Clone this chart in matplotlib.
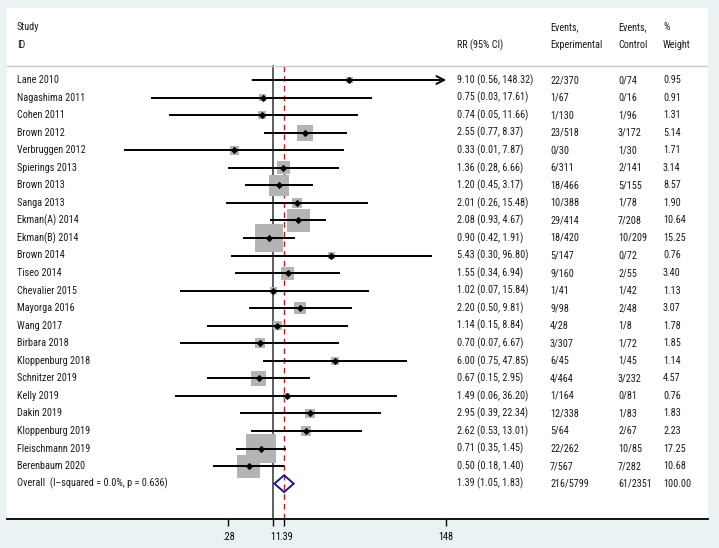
import matplotlib
matplotlib.use("Agg")
import matplotlib.pyplot as plt
import numpy as np

plt.rcParams['font.family'] = ['Roboto Condensed', 'Lato', 'DejaVu Sans']

studies = ["Lane 2010", "Nagashima 2011", "Cohen 2011", "Brown 2012", "Verbruggen 2012",
           "Spierings 2013", "Brown 2013", "Sanga 2013", "Ekman(A) 2014", "Ekman(B) 2014",
           "Brown 2014", "Tiseo 2014", "Chevalier 2015", "Mayorga 2016", "Wang 2017",
           "Birbara 2018", "Kloppenburg 2018", "Schnitzer 2019", "Kelly 2019", "Dakin 2019",
           "Kloppenburg 2019", "Fleischmann 2019", "Berenbaum 2020"]
rr = [9.10, 0.75, 0.74, 2.55, 0.33, 1.36, 1.20, 2.01, 2.08, 0.90, 5.43, 1.55, 1.02,
      2.20, 1.14, 0.70, 6.00, 0.67, 1.49, 2.95, 2.62, 0.71, 0.50]
lo = [0.56, 0.03, 0.05, 0.77, 0.014, 0.28, 0.45, 0.26, 0.93, 0.42, 0.30, 0.34, 0.07,
      0.50, 0.15, 0.07, 0.75, 0.15, 0.06, 0.39, 0.53, 0.35, 0.18]
hi = [148.32, 17.61, 11.66, 8.37, 7.87, 6.66, 3.17, 15.48, 4.67, 1.91, 96.80, 6.94, 15.84,
      9.81, 8.84, 6.67, 47.85, 2.95, 36.20, 22.34, 13.01, 1.45, 1.40]
ev_exp = ["22/370", "1/67", "1/130", "23/518", "0/30", "6/311", "18/466", "10/388", "29/414",
          "18/420", "5/147", "9/160", "1/41", "9/98", "4/28", "3/307", "6/45", "4/464", "1/164",
          "12/338", "5/64", "22/262", "7/567"]
ev_ctl = ["0/74", "0/16", "1/96", "3/172", "1/30", "2/141", "5/155", "1/78", "7/208", "10/209",
          "0/72", "2/55", "1/42", "2/48", "1/8", "1/72", "1/45", "3/232", "0/81", "1/83",
          "2/67", "10/85", "7/282"]
weights = [0.95, 0.91, 1.31, 5.14, 1.71, 3.14, 8.57, 1.90, 10.64, 15.25, 0.76, 3.40, 1.13,
           3.07, 1.78, 1.85, 1.14, 4.57, 0.76, 1.83, 2.23, 17.25, 10.68]
overall_label = "Overall  (I\u2013squared = 0.0%, p = 0.636)"
overall_rr, overall_lo, overall_hi = 1.39, 1.05, 1.83
overall_exp, overall_ctl, overall_w = "216/5799", "61/2351", "100.00"
xticks = [0.28, 1, 1.39, 148]
xticklabels = [".28", "1", "1.39", "148"]
axis_max = 148

W, H = 719, 548
fig = plt.figure(figsize=(W / 100, H / 100), dpi=100)
fig.patch.set_facecolor('#EAF2F3')

left_px, right_px, top_px, bot_px = 7, 708, 8, 519
ax = fig.add_axes([left_px / W, 1 - bot_px / H, (right_px - left_px) / W, (bot_px - top_px) / H])
ax.set_facecolor('white')

# x mapping: 80 px per decade, 1 at px 272.7
ppd, x1 = 80.0, 272.7
ax.set_xscale('log')
ax.set_xlim(10 ** ((left_px - x1) / ppd), 10 ** ((right_px - x1) / ppd))

row0, pitch = 80.0, 17.55
def yrow(py):
    return (py - row0) / pitch
ax.set_ylim(yrow(bot_px), yrow(top_px))

n = len(studies)
ys = np.arange(n)
y_over = n

# vertical lines
ysep = yrow(66)
ax.plot([1, 1], [ysep, yrow(bot_px)], color='#505050', lw=1.3, zorder=1)
ax.plot([overall_rr, overall_rr], [ysep, yrow(bot_px)], color='#B22222', lw=1.0,
        ls=(0, (4, 3)), zorder=1)

# header separator
ax.axhline(ysep, color='#C8C8C8', lw=1.0, zorder=1)

# boxes
ax.scatter(rr, ys, s=[26.06 * w for w in weights], marker='s', color='#B4B4B4',
           linewidths=0, zorder=2)
# CIs
for i in range(n):
    if hi[i] > axis_max:
        ax.annotate('', xy=(axis_max, ys[i]), xytext=(lo[i], ys[i]),
                    arrowprops=dict(arrowstyle='->', lw=1.4, color='black',
                                    mutation_scale=14, shrinkA=0, shrinkB=0), zorder=3)
    else:
        ax.plot([lo[i], hi[i]], [ys[i], ys[i]], color='black', lw=1.4, zorder=3,
                solid_capstyle='butt')
ax.scatter(rr, ys, s=14, marker='D', color='black', zorder=4, linewidths=0)

# overall diamond
dh = 0.48
ax.fill([overall_lo, overall_rr, overall_hi, overall_rr, overall_lo],
        [y_over, y_over - dh, y_over, y_over + dh, y_over],
        facecolor='none', edgecolor='#1A1A8A', lw=1.4, zorder=4)

# text columns
tr = ax.get_yaxis_transform()
def xf(px):
    return (px - left_px) / (right_px - left_px)
fs = 7.3
tc = '#1A1A1A'
col_id, col_rr, col_exp, col_ctl, col_w = xf(17), xf(457), xf(550), xf(618), xf(663)
h1, h2 = yrow(27), yrow(45)
for x, t1, t2 in [(col_id, "Study", "ID"), (col_rr, "", "RR (95% CI)"),
                  (col_exp, "Events,", "Experimental"), (col_ctl, "Events,", "Control"),
                  (col_w, "%", "Weight")]:
    if t1:
        ax.text(x, h1, t1, transform=tr, fontsize=fs, color=tc, va='center', ha='left')
    ax.text(x, h2, t2, transform=tr, fontsize=fs, color=tc, va='center', ha='left')

for i in range(n):
    ax.text(col_id, ys[i], studies[i], transform=tr, fontsize=fs, color=tc, va='center')
    ax.text(col_rr, ys[i], f"{rr[i]:.2f} ({lo[i]:.2f}, {hi[i]:.2f})", transform=tr,
            fontsize=fs, color=tc, va='center')
    ax.text(col_exp, ys[i], ev_exp[i], transform=tr, fontsize=fs, color=tc, va='center')
    ax.text(col_ctl, ys[i], ev_ctl[i], transform=tr, fontsize=fs, color=tc, va='center')
    ax.text(col_w, ys[i], f"{weights[i]:.2f}", transform=tr, fontsize=fs, color=tc, va='center')

ax.text(col_id, y_over, overall_label, transform=tr, fontsize=fs, color=tc, va='center')
ax.text(col_rr, y_over, f"{overall_rr:.2f} ({overall_lo:.2f}, {overall_hi:.2f})",
        transform=tr, fontsize=fs, color=tc, va='center')
ax.text(col_exp, y_over, overall_exp, transform=tr, fontsize=fs, color=tc, va='center')
ax.text(col_ctl, y_over, overall_ctl, transform=tr, fontsize=fs, color=tc, va='center')
ax.text(col_w, y_over, overall_w, transform=tr, fontsize=fs, color=tc, va='center')

for s in ['top', 'left', 'right']:
    ax.spines[s].set_visible(False)
ax.spines['bottom'].set_color('black')
ax.spines['bottom'].set_linewidth(1.3)
ax.set_yticks([])
ax.set_xticks(xticks)
ax.set_xticklabels(xticklabels)
ax.minorticks_off()
ax.tick_params(axis='x', which='major', direction='out', length=5, width=1.0,
               labelsize=fs, pad=4, colors='black')

fig.savefig('out.png', dpi=100, facecolor=fig.get_facecolor())
